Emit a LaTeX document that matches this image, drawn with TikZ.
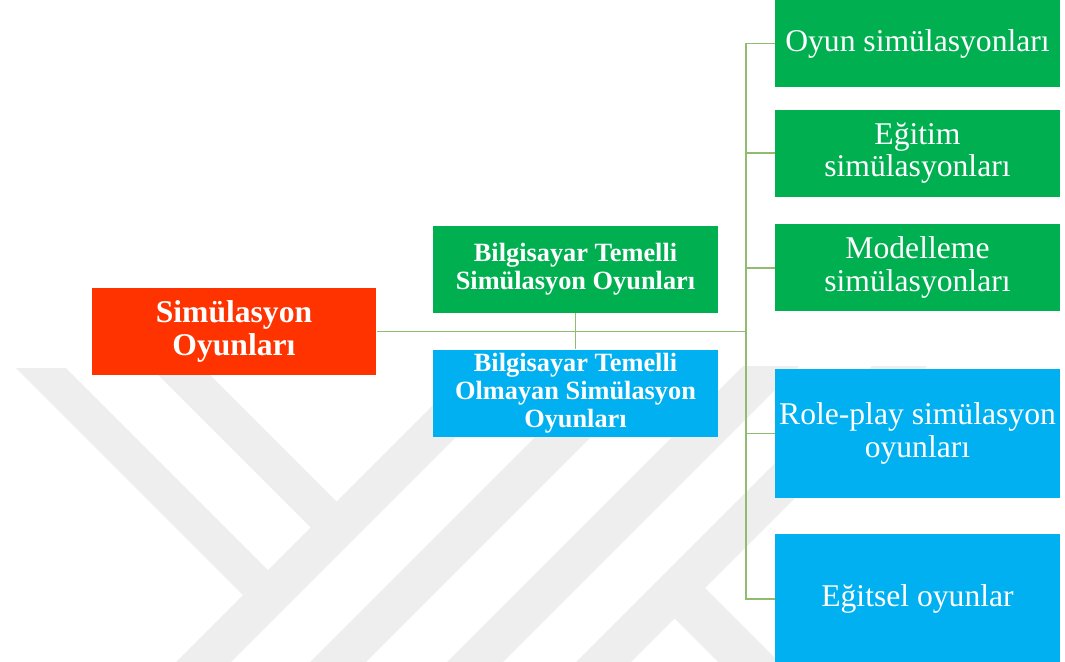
\documentclass[tikz,border=0pt]{standalone}
\usepackage{fontspec}
\setmainfont{Liberation Serif}
\usepackage{tikz}
\usetikzlibrary{positioning}
\definecolor{SimRed}{RGB}{255, 51, 0}
\definecolor{SimGreen}{RGB}{0, 176, 80}
\definecolor{SimBlue}{RGB}{0, 176, 240}
\definecolor{LinkGreen}{RGB}{143, 188, 110}
\definecolor{MarkGray}{RGB}{238, 238, 238}
\tikzset{
  box/.style={inner sep=0pt, align=center, text=white, minimum width=5.7cm, minimum height=1.74cm},
  rootbox/.style={box, fill=SimRed, font=\fontsize{18}{18.8}\selectfont\bfseries},
  midbox/.style={box, font=\fontsize{15}{15.8}\selectfont\bfseries},
  leafbox/.style={box, font=\fontsize{18}{18.7}\selectfont},
  link/.style={draw=LinkGreen, line width=1pt}
}

\begin{document}
\begin{tikzpicture}[x=0.02cm, y=-0.02cm]
    \useasboundingbox (0,0) rectangle (1065,662);

    % Filigran
    \begin{scope}
      \clip (0,366) rectangle (1065,662);
      \fill[MarkGray] (16,368) -- (66,368) -- (268,570) -- (243,595) -- cycle;
      \fill[MarkGray] (157,374) -- (209,374) -- (336.5,501.5) -- (310.5,527.5) -- cycle;
      \fill[MarkGray] (176,662) -- (231,662) -- (527,366) -- (472,366) -- cycle;
      \fill[MarkGray] (310,662) -- (366,662) -- (662,366) -- (606,366) -- cycle;
      \fill[MarkGray] (447,662) -- (503,662) -- (799,366) -- (743,366) -- cycle;
      \fill[MarkGray] (576,662) -- (631,662) -- (927,366) -- (872,366) -- cycle;
      \fill[MarkGray] (674,618) -- (704.5,587.5) -- (817,700) -- (756,700) -- cycle;
    \end{scope}

    % Kök
    \node[rootbox] (root) at (234,331.5) {Simülasyon\\Oyunları};

    % Orta
    \node[midbox, fill=SimGreen] (bt) at (575.5,269.5) {Bilgisayar Temelli\\Simülasyon Oyunları};
    \node[midbox, fill=SimBlue, below=0.72cm of bt] (bto) {Bilgisayar Temelli\\Olmayan Simülasyon\\Oyunları};

    % Sağ
    \node[leafbox, fill=SimGreen] (oyun) at (917.5,43.5) {Oyun simülasyonları};
    \node[leafbox, fill=SimGreen, below=0.44cm of oyun] (egitim) {Eğitim\\simülasyonları};
    \node[leafbox, fill=SimGreen, below=0.54cm of egitim] (model) {Modelleme\\simülasyonları};
    \node[leafbox, fill=SimBlue, minimum height=2.58cm, below=1.14cm of model] (role) {Role-play simülasyon\\oyunları};
    \node[leafbox, fill=SimBlue, minimum height=2.6cm, below=0.7cm of role] (egitsel) {Eğitsel oyunlar};

    % Bağlantılar
    \coordinate (spine) at (746,331.5);
    \draw[link] (root) -- (spine);
    \draw[link] (bt) -- (bto);
    \foreach \leaf in {oyun,egitim,model,role,egitsel}
      \draw[link] (spine) |- (\leaf.west);
\end{tikzpicture}
\end{document}
